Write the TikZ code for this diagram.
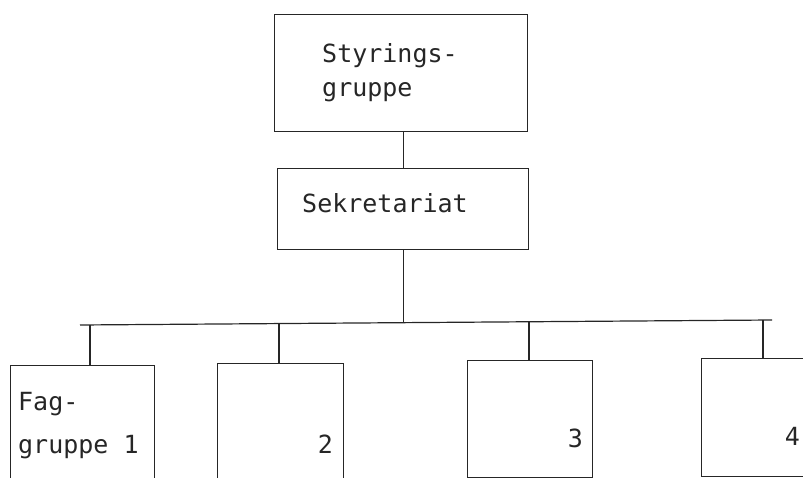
\documentclass[tikz,border=0pt]{standalone}
\usepackage{fontspec}
\setmonofont{DejaVu Sans Mono}
\begin{document}
\begin{tikzpicture}[x=1pt,y=-1pt,
    box/.style={draw=black!85,line width=1.2pt,inner sep=0pt,anchor=north west},
    txt/.style={inner sep=0pt,text=black!85,font=\ttfamily\fontsize{25}{34}\selectfont}]
      \useasboundingbox (0,0) rectangle (803,478);
      \clip (0,0) rectangle (803,478);
      % boxes
      \node[box,minimum width=253pt,minimum height=117pt] (styr) at (274,14) {};
      \node[box,minimum width=251pt,minimum height=81pt] (sekr) at (277,168) {};
      \node[box,minimum width=144pt,minimum height=116pt] (fag1) at (10,365) {};
      \node[box,minimum width=126pt,minimum height=117pt] (fag2) at (217,363) {};
      \node[box,minimum width=125pt,minimum height=117pt] (fag3) at (467,360) {};
      \node[box,minimum width=140pt,minimum height=118pt] (fag4) at (701,358) {};
      % texts
      \node[txt,anchor=base west] (styr1) at (322,63) {Styrings-};
      \node[txt,anchor=base west] (styr2) at (322,97) {gruppe};
      \node[txt,anchor=base west] (sekrt) at (302,213) {Sekretariat};
      \node[txt,anchor=base west] (fag1a) at (18,410) {Fag-};
      \node[txt,anchor=base west] (fag1b) at (18,453) {gruppe 1};
      \node[txt,anchor=base east] (fag2t) at (333,453) {2};
      \node[txt,anchor=base east] (fag3t) at (583,447) {3};
      \node[txt,anchor=base east] (fag4t) at (800,445) {4};
      % bus
      \coordinate (busL) at (80,325);
      \coordinate (busR) at (772,320);
      \coordinate (b0) at (403,323);
      \coordinate (b1) at (90,325);
      \coordinate (b2) at (279,324);
      \coordinate (b3) at (529,322);
      \coordinate (b4) at (763,320);
      \begin{scope}[draw=black!85,line width=1.2pt]
      \draw (sekr.north |- styr.south) -- (sekr.north);
      \draw (sekr.south) -- (sekr.south |- b0);
      \draw (busL) -- (busR);
      \draw (b1) -- (b1 |- fag1.north);
      \draw (b2) -- (b2 |- fag2.north);
      \draw (b3) -- (b3 |- fag3.north);
      \draw (b4) -- (b4 |- fag4.north);
      \end{scope}
\end{tikzpicture}
\end{document}
